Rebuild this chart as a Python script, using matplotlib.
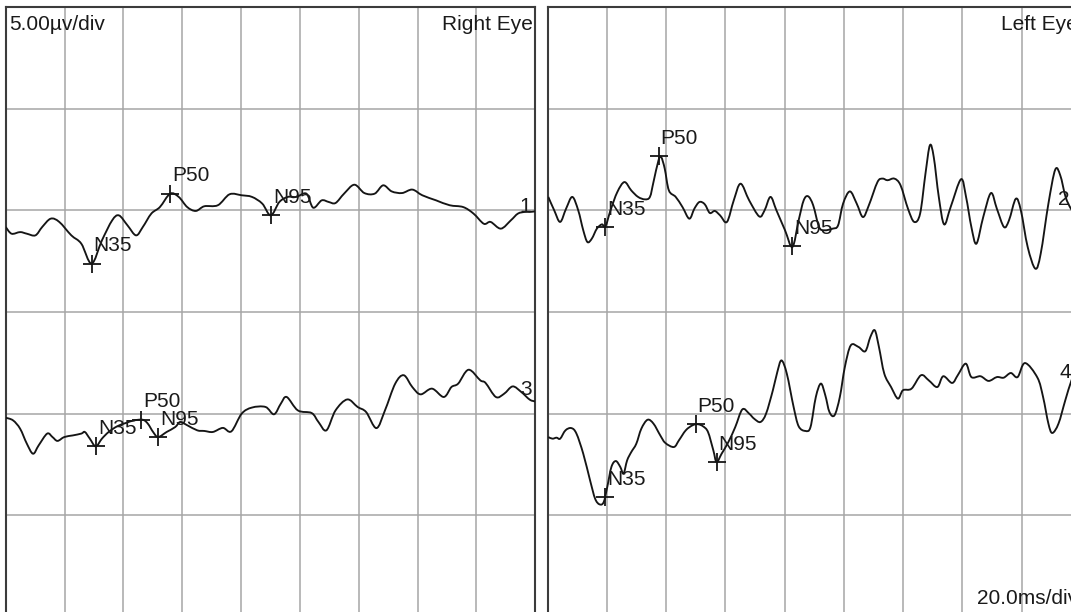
import matplotlib.pyplot as plt
from matplotlib.path import Path
from matplotlib.patches import PathPatch

plt.rcParams['font.family'] = ['Liberation Sans', 'DejaVu Sans']

# Time in ms, amplitude in microvolts relative to the trace baseline
# Right eye, trace 1
t1 = [0, 2.0, 4.9, 7.2, 10.1, 12.4, 15.3, 18.2, 22.3, 25.7, 29.2, 32.7, 36.2, 38.5,
      41.4, 44.3, 46.6, 49.5, 52.4, 55.9, 58.8, 61.7, 64.6, 67.5, 72.1, 76.1, 80.2,
      83.7, 87.2, 90.1, 93.0, 95.9, 98.8, 102.2, 104.5, 107.4, 109.8, 112.1, 115.0,
      118.5, 121.9, 125.4, 128.3, 131.2, 134.7, 138.2, 141.6, 146.3, 150.9, 155.5,
      159.0, 162.5, 164.8, 168.3, 171.7, 174.1, 176.4, 178.1, 180.0]
v1 = [-0.82, -1.15, -1.07, -1.15, -1.23, -0.82, -0.41, -0.57, -1.23, -1.64, -2.62,
      -1.48, -0.49, -0.25, -0.74, -1.23, -0.82, -0.16, 0.16, 0.82, 0.66, 0.16, -0.03,
      0.20, 0.25, 0.79, 0.74, 0.66, 0.33, -0.25, 0.41, 0.66, 0.66, 0.82, 0.13, 0.49,
      0.41, 0.36, 0.82, 1.26, 0.85, 0.82, 1.23, 0.93, 0.85, 1.02, 0.74, 0.49, 0.25,
      0.16, -0.16, -0.66, -0.57, -0.90, -0.49, -0.16, -0.08, -0.08, -0.05]

# Right eye, trace 3
t3 = [0, 2.5, 4.9, 7.2, 9.3, 11.2, 14.1, 15.9, 17.6, 19.9, 22.8, 25.7, 26.9, 28.6,
      30.6, 32.7, 35.0, 37.9, 40.8, 43.7, 46.6, 48.3, 50.1, 51.8, 54.7, 57.6, 59.3,
      61.7, 65.1, 67.5, 70.4, 73.8, 76.7, 80.2, 83.7, 88.3, 91.2, 93.5, 95.5, 99.3,
      104.0, 106.3, 109.0, 112.1, 116.1, 119.6, 122.5, 126.0, 128.9, 132.4, 135.3,
      138.2, 141.0, 144.9, 148.9, 151.5, 153.8, 157.3, 161.3, 163.1, 166.6, 169.4,
      172.3, 175.2, 178.1, 180.0]
v3 = [-0.20, -0.33, -0.74, -1.48, -1.97, -1.56, -0.98, -1.15, -1.34, -1.15, -1.07,
      -0.98, -0.90, -1.23, -1.61, -1.23, -0.90, -0.62, -0.46, -0.33, -0.30, -0.49,
      -0.90, -1.15, -0.90, -0.66, -0.41, -0.57, -0.82, -0.85, -0.90, -0.70, -0.87,
      0.0, 0.30, 0.33, -0.03, 0.49, 0.82, 0.16, 0.03, -0.41, -0.82, 0.16, 0.70, 0.33,
      0.08, -0.71, 0.16, 1.48, 1.89, 1.31, 0.95, 1.23, 0.82, 1.31, 1.48, 2.16, 1.64,
      1.51, 0.82, 0.98, 1.34, 1.07, 0.69, 0.60]

# Left eye, trace 2
t2 = [0.2, 2.2, 4.2, 6.2, 8.3, 10.3, 12.0, 13.4, 14.9, 16.6, 18.3, 19.5, 21.2, 23.5,
      25.9, 28.2, 30.5, 32.8, 34.5, 35.7, 37.4, 38.3, 39.5, 40.9, 43.2, 45.5, 47.8,
      49.5, 51.2, 53.0, 54.7, 56.4, 58.2, 60.5, 62.8, 65.1, 68.0, 71.4, 73.2, 75.2,
      77.2, 80.1, 82.6, 84.7, 86.4, 87.9, 89.6, 91.6, 93.4, 96.2, 98.0, 99.7, 102.0,
      104.3, 106.4, 108.4, 111.3, 113.0, 114.7, 117.0, 119.1, 121.6, 123.7, 125.7,
      127.5, 129.0, 130.3, 132.0, 133.8, 136.0, 139.5, 141.2, 143.0, 144.7, 147.0,
      149.6, 151.6, 154.0, 155.7, 158.0, 159.7, 162.0, 164.6, 166.4, 169.0, 171.3,
      173.0, 174.8, 176.6, 178.5]
v2 = [0.66, 0.0, -0.57, 0.08, 0.66, 0.0, -0.98, -1.56, -1.39, -0.90, -0.69, -0.79,
      0.0, 0.90, 1.39, 0.98, 0.66, 0.54, 0.66, 1.39, 2.46, 2.62, 2.05, 0.98, 0.66,
      0.16, -0.41, 0.08, 0.41, 0.30, -0.13, -0.03, -0.25, -0.57, 0.49, 1.31, 0.49,
      -0.30, 0.0, 0.66, 0.0, -0.98, -1.80, -0.49, 0.49, 0.69, 0.25, -0.82, -0.98,
      -0.90, -0.74, 0.33, 0.93, 0.33, -0.33, 0.25, 1.39, 1.56, 1.48, 1.56, 1.23, 0.08,
      -0.57, -0.16, 1.80, 3.20, 2.62, 0.66, -0.69, 0.16, 1.53, 0.66, -0.82, -1.64,
      -0.33, 0.85, 0.08, -0.82, -0.49, 0.57, 0.0, -1.80, -2.87, -2.13, 0.33, 2.00,
      1.72, 0.66, 0.08, -0.30]

# Left eye, trace 4
t4 = [0.2, 1.6, 3.0, 4.2, 6.0, 8.0, 9.7, 12.0, 14.3, 16.0, 17.5, 18.9, 20.1, 21.5,
      23.0, 24.5, 25.6, 26.8, 28.2, 29.9, 31.6, 33.7, 35.7, 38.0, 39.7, 42.6, 44.3,
      46.6, 48.9, 50.7, 52.4, 54.1, 55.9, 57.0, 58.7, 61.0, 63.3, 65.7, 68.0, 69.7,
      71.8, 73.7, 76.0, 77.5, 78.9, 80.7, 83.0, 84.7, 87.0, 88.7, 90.5, 92.2, 93.7,
      95.1, 96.8, 98.6, 100.3, 102.3, 104.9, 107.2, 108.9, 110.4, 111.8, 113.6, 115.9,
      118.2, 119.9, 122.8, 126.0, 128.6, 131.5, 133.5, 136.5, 138.4, 141.1, 143.0,
      146.1, 148.8, 151.6, 153.9, 156.3, 158.6, 161.1, 165.3, 167.2, 169.0, 170.3,
      172.4, 174.7, 176.8, 179.0]
v4 = [-1.15, -1.23, -1.18, -1.23, -0.82, -0.71, -0.98, -1.97, -3.28, -4.18, -4.46,
      -4.35, -3.61, -2.62, -2.33, -2.62, -2.95, -2.30, -1.89, -1.48, -0.74, -0.30,
      -0.49, -1.07, -1.44, -1.64, -1.31, -0.82, -0.57, -0.52, -0.62, -0.90, -1.80,
      -2.38, -1.97, -1.39, -0.66, 0.21, 0.0, -0.25, -0.41, 0.0, 1.15, 2.05, 2.62,
      1.97, 0.33, -0.62, -0.85, -0.66, 0.82, 1.48, 0.90, 0.08, -0.08, 0.82, 2.30,
      3.36, 3.28, 3.07, 3.77, 4.10, 3.28, 1.97, 1.31, 0.74, 1.15, 1.23, 1.89, 1.64,
      1.31, 1.84, 1.51, 1.89, 2.46, 1.80, 1.84, 1.61, 1.80, 1.77, 2.00, 1.80, 2.49,
      1.77, 0.82, -0.49, -0.95, -0.49, 0.66, 1.64, 2.40]

# Marked components (ms, uV relative to baseline)
peak_names = ["N35", "P50", "N95"]
peak_t1 = [29.2, 55.9, 90.1]
peak_v1 = [-2.62, 0.82, -0.25]
peak_t3 = [30.6, 46.0, 51.8]
peak_v3 = [-1.61, -0.30, -1.15]
peak_t2 = [19.5, 37.4, 82.6]
peak_v2 = [-0.82, 2.66, -1.77]
peak_t4 = [19.5, 49.9, 57.0]
peak_v4 = [-4.10, -0.52, -2.38]

# Channel numbers: (label, ms, uV relative to baseline)
tags_right = [("1", 178.7, -0.1), ("3", 178.7, 0.9)]
tags_left = [("2", 176.0, 0.25), ("4", 176.7, 1.74)]

upper_base = 20.0   # uV, trace 1 and 2 baseline
lower_base = 10.0   # uV, trace 3 and 4 baseline

FS = 15
INK = '#151515'
GRID = '#a6a6a6'
EDGE = '#3c3c3c'


def smooth_path(xs, ys):
    # Catmull-Rom style curve through the recorded points, drawn as cubic beziers
    verts = [(xs[0], ys[0])]
    codes = [Path.MOVETO]
    n = len(xs)
    for i in range(n - 1):
        x0, y0 = (xs[i - 1], ys[i - 1]) if i > 0 else (xs[i], ys[i])
        x1, y1 = xs[i], ys[i]
        x2, y2 = xs[i + 1], ys[i + 1]
        x3, y3 = (xs[i + 2], ys[i + 2]) if i + 2 < n else (x2, y2)
        verts.append((x1 + (x2 - x0) / 6, y1 + (y2 - y0) / 6))
        verts.append((x2 - (x3 - x1) / 6, y2 - (y3 - y1) / 6))
        verts.append((x2, y2))
        codes += [Path.CURVE4] * 3
    return Path(verts, codes)


def setup_axes(ax):
    ax.set_xlim(0, 180)
    ax.set_ylim(0, 30)
    ax.set_xticks(range(0, 181, 20))
    ax.set_yticks(range(0, 31, 5))
    ax.grid(True, color=GRID, linewidth=1.1)
    ax.set_axisbelow(True)
    ax.tick_params(length=0, labelbottom=False, labelleft=False)
    for s in ax.spines.values():
        s.set_color(EDGE)
        s.set_linewidth(1.5)


def draw_trace(ax, t, v, base, pt, pv, tag):
    ys = [x + base for x in v]
    ax.add_patch(PathPatch(smooth_path(t, ys), facecolor='none', edgecolor=INK,
                           linewidth=1.35, joinstyle='round', zorder=3))
    ax.plot(pt, [x + base for x in pv], linestyle='none', marker='+',
            markersize=13, markeredgewidth=1.3, color=INK, zorder=4)
    for name, x, y in zip(peak_names, pt, pv):
        ax.annotate(name, xy=(x, y + base), xytext=(1.5, 9),
                    textcoords='offset points', ha='left', va='baseline',
                    fontsize=FS, color='#1a1a1a', zorder=5)
    label, tx, ty = tag
    ax.text(tx, ty + base, label, ha='right', va='baseline',
            fontsize=FS, color='#1a1a1a', zorder=5)


fig = plt.figure(figsize=(10.71, 6.12), dpi=100)
ax_r = fig.add_axes([5.7 / 1071, -5 / 612, 529.6 / 1071, 610 / 612])
ax_l = fig.add_axes([547.7 / 1071, -5 / 612, 533.3 / 1071, 610 / 612])

for ax in (ax_r, ax_l):
    setup_axes(ax)

draw_trace(ax_r, t1, v1, upper_base, peak_t1, peak_v1, tags_right[0])
draw_trace(ax_r, t3, v3, lower_base, peak_t3, peak_v3, tags_right[1])
draw_trace(ax_l, t2, v2, upper_base, peak_t2, peak_v2, tags_left[0])
draw_trace(ax_l, t4, v4, lower_base, peak_t4, peak_v4, tags_left[1])

ax_r.annotate("5.00\u00b5v/div", xy=(0, 1), xycoords='axes fraction',
              xytext=(2.5, -5.5), textcoords='offset points',
              ha='left', va='top', fontsize=FS, color='#1a1a1a')
ax_r.annotate("Right Eye", xy=(1, 1), xycoords='axes fraction',
              xytext=(-2, -5.5), textcoords='offset points',
              ha='right', va='top', fontsize=FS, color='#1a1a1a')
ax_l.annotate("Left Eye", xy=(1, 1), xycoords='axes fraction',
              xytext=(-2, -5.5), textcoords='offset points',
              ha='right', va='top', fontsize=FS, color='#1a1a1a')
ax_l.annotate("20.0ms/div", xy=(1, 0), xycoords='axes fraction',
              xytext=(-2, 9), textcoords='offset points',
              ha='right', va='baseline', fontsize=FS, color='#1a1a1a')

fig.savefig('out.png', dpi=100)
